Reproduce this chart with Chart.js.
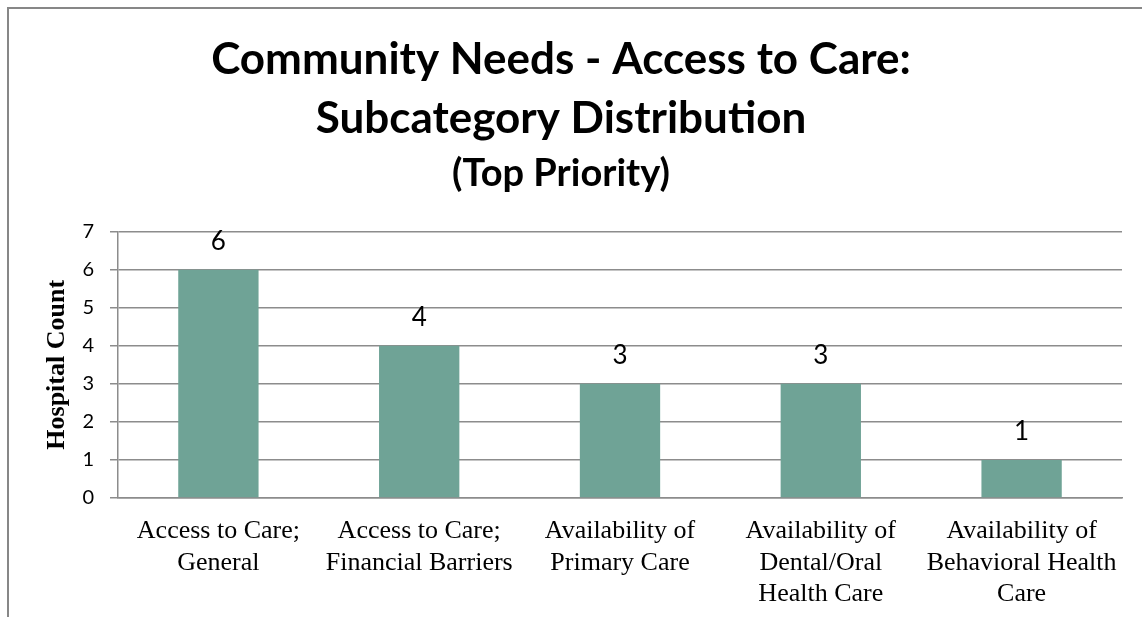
<!DOCTYPE html>
<html>
<head>
<meta charset="utf-8">
<script src="https://cdn.jsdelivr.net/npm/chart.js@4/dist/chart.umd.min.js"></script>
<style>
  html, body { margin: 0; padding: 0; background: #ffffff; }
  #wrap { width: 1142px; height: 617px; }
</style>
</head>
<body>
<div id="wrap"><canvas id="chart" width="1142" height="617"></canvas></div>
<script>
// Subcategories of the "Access to Care" community need (multi-line axis labels)
const categories = [
  ['Access to Care;', 'General'],
  ['Access to Care;', 'Financial Barriers'],
  ['Availability of', 'Primary Care'],
  ['Availability of', 'Dental/Oral', 'Health Care'],
  ['Availability of', 'Behavioral Health', 'Care']
];
// Number of hospitals naming each subcategory as a top priority
const hospitalCounts = [6, 4, 3, 3, 1];
// Value axis range and step
const yTickMin = 0;
const yTickMax = 7;
const yTickStep = 1;

const titleLines = ['Community Needs - Access to Care:', 'Subcategory Distribution'];
const subtitleText = '(Top Priority)';
const yAxisTitle = 'Hospital Count';

const GRID = '#8c8c8c';
const BAR = '#6fa396';

// White background plus the frame line along the top and left edges
const framePlugin = {
  id: 'frame',
  beforeDraw(chart) {
    const ctx = chart.ctx;
    ctx.save();
    ctx.fillStyle = '#ffffff';
    ctx.fillRect(0, 0, chart.width, chart.height);
    ctx.strokeStyle = '#878787';
    ctx.lineWidth = 2;
    ctx.beginPath();
    ctx.moveTo(8, chart.height);
    ctx.lineTo(8, 8);
    ctx.lineTo(chart.width, 8);
    ctx.stroke();
    ctx.restore();
  }
};

// Value written above each bar
const valueLabelPlugin = {
  id: 'valueLabels',
  afterDatasetsDraw(chart) {
    const ctx = chart.ctx;
    const meta = chart.getDatasetMeta(0);
    const values = chart.data.datasets[0].data;
    ctx.save();
    ctx.font = '26px Lato';
    ctx.fillStyle = '#000000';
    ctx.textAlign = 'center';
    ctx.textBaseline = 'middle';
    meta.data.forEach((bar, i) => {
      ctx.fillText(String(values[i]), bar.x, bar.y - 28);
    });
    ctx.restore();
  }
};

new Chart(document.getElementById('chart'), {
  type: 'bar',
  data: {
    labels: categories,
    datasets: [{
      data: hospitalCounts,
      backgroundColor: BAR,
      borderWidth: 0,
      categoryPercentage: 1.0,
      barPercentage: 0.4
    }]
  },
  options: {
    responsive: false,
    devicePixelRatio: 1,
    animation: false,
    layout: { padding: { left: 0, right: 20, top: 0, bottom: 0 } },
    plugins: {
      legend: { display: false },
      tooltip: { enabled: false },
      title: {
        display: true,
        text: titleLines,
        color: '#000000',
        font: { family: 'Lato', size: 44, weight: 'bold', lineHeight: '58.5px' },
        padding: { top: 31, bottom: 0 }
      },
      subtitle: {
        display: true,
        text: subtitleText,
        color: '#000000',
        font: { family: 'Lato', size: 38, weight: 'bold', lineHeight: 1.2 },
        padding: { top: 3, bottom: 35 }
      }
    },
    scales: {
      x: {
        grid: { display: false, drawTicks: false },
        border: { display: true, color: GRID, width: 1.5 },
        ticks: {
          color: '#000000',
          font: { family: 'Liberation Serif', size: 26, lineHeight: 1.2 },
          padding: 18,
          maxRotation: 0,
          autoSkip: false
        },
        afterFit(scale) { scale.height = 119; }
      },
      y: {
        min: yTickMin,
        max: yTickMax,
        grid: { color: GRID, lineWidth: 1.5, tickLength: 8 },
        border: { display: true, color: GRID, width: 1.5 },
        ticks: {
          stepSize: yTickStep,
          color: '#000000',
          font: { family: 'Lato', size: 20 },
          padding: 16
        },
        title: {
          display: true,
          text: yAxisTitle,
          color: '#000000',
          font: { family: 'Liberation Serif', size: 26, weight: 'bold' },
          padding: { top: 42, bottom: 0 }
        },
        afterFit(scale) { scale.width = 118; }
      }
    }
  },
  plugins: [framePlugin, valueLabelPlugin]
});
</script>
</body>
</html>
